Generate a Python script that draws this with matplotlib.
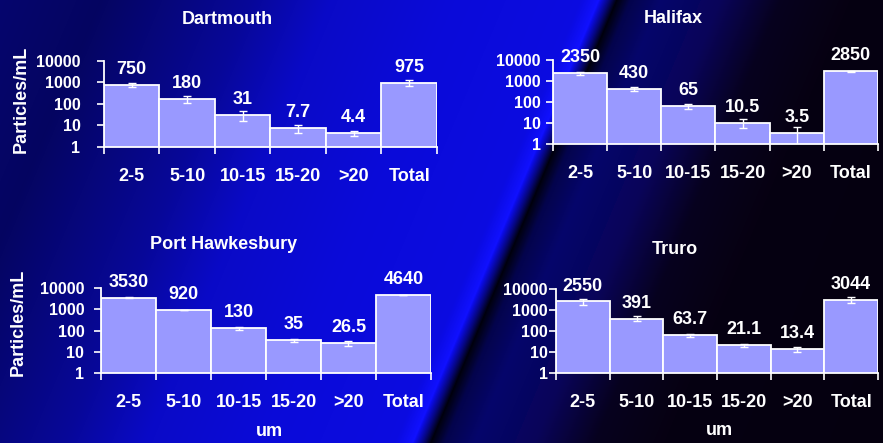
import numpy as np
import matplotlib
matplotlib.use("Agg")
import matplotlib.pyplot as plt

plt.rcParams["font.family"] = ["Liberation Sans", "DejaVu Sans"]
plt.rcParams["font.weight"] = "bold"

categories = ["2-5", "5-10", "10-15", "15-20", ">20", "Total"]

dartmouth = [750, 180, 31, 7.7, 4.4, 975]
dartmouth_err = [150, 65, 14, 3, 1.3, 280]

halifax = [2350, 430, 65, 10.5, 3.5, 2850]
halifax_err = [450, 90, 18, 5, 2.8, 300]

port_hawkesbury = [3530, 920, 130, 35, 26.5, 4640]
port_hawkesbury_err = [150, 40, 20, 7, 7, 200]

truro = [2550, 391, 63.7, 21.1, 13.4, 3044]
truro_err = [900, 100, 12, 4, 3.5, 1000]

W, H = 883, 443
fig = plt.figure(figsize=(W / 100, H / 100), dpi=100)

# background: navy to blue, a thin light streak, then fading to black
bg_ax = fig.add_axes([0, 0, 1, 1], zorder=-5)
yy, xx = np.mgrid[0:H, 0:W]
u = xx + 0.42 * yy
u_pts = [0, 100, 250, 330, 450, 580, 598, 608, 616, 630, 660, 720, 780, 850, 1300]
b_pts = [0.43, 0.38, 0.6, 0.78, 0.85, 0.88, 1.0, 0.5, 0.05, 0.3, 0.42, 0.35, 0.12, 0.07, 0.05]
blue = np.interp(u, u_pts, b_pts)
g = 0.05 * blue + 0.15 * np.clip(blue - 0.9, 0, None)
r = g + 0.02 * (u > 700)
bg = np.dstack([r, g, blue])
bg_ax.imshow(bg, aspect="auto", extent=[0, 1, 0, 1], origin="upper")
bg_ax.axis("off")

# title, values, errors, axes rect, ylabel, xlabel, title y, ytick pad
panels = [
    ("Dartmouth", dartmouth, dartmouth_err, [0.1178, 0.6682, 0.377, 0.1941], 0.55, False, 1.488, 12),
    ("Halifax", halifax, halifax_err, [0.6263, 0.6749, 0.368, 0.1897], None, False, 1.488, 4),
    ("Port Hawkesbury", port_hawkesbury, port_hawkesbury_err, [0.1144, 0.158, 0.3737, 0.1919], 0.6, True, 1.506, 7),
    ("Truro", truro, truro_err, [0.6297, 0.158, 0.3646, 0.1896], None, True, 1.476, 1),
]

x = np.arange(len(categories))
for title, vals, err, rect, ylab_y, show_xlabel, title_y, ypad in panels:
    ax = fig.add_axes(rect)
    ax.patch.set_alpha(0)
    ax.bar(x, vals, width=1.0, color="#9999ff", edgecolor="white", linewidth=1.3, zorder=2)
    ax.errorbar(x, vals, yerr=err, fmt="none", ecolor="white", elinewidth=1,
                capsize=3, capthick=1, zorder=3)
    ax.set_yscale("log")
    ax.set_ylim(1, 10000)
    ax.set_xlim(-0.5, len(categories) - 0.5)
    ax.set_yticks([1, 10, 100, 1000, 10000])
    ax.set_yticklabels(["1", "10", "100", "1000", "10000"])
    ax.minorticks_off()
    ax.set_xticks(x)
    ax.set_xticklabels(categories)
    ax.set_xticks(np.arange(-0.5, len(categories)), minor=True)
    ax.tick_params(axis="x", which="major", length=0, pad=15, labelsize=13, colors="white")
    ax.tick_params(axis="x", which="minor", length=5, width=1.2, color="white")
    ax.tick_params(axis="y", length=5, width=1.2, labelsize=11.5, colors="white", pad=ypad)
    for side in ["top", "right"]:
        ax.spines[side].set_visible(False)
    for side in ["left", "bottom"]:
        ax.spines[side].set_color("white")
        ax.spines[side].set_linewidth(1.3)

    for xi, v in zip(x, vals):
        ax.annotate(f"{v:g}", (xi, v), xytext=(0, 5), textcoords="offset points",
                    ha="center", va="bottom", fontsize=13, color="white", fontweight="bold")

    ax.text(0.37, title_y, title, transform=ax.transAxes, ha="center", va="center",
            fontsize=13, color="white", fontweight="bold")
    if ylab_y is not None:
        ax.set_ylabel("Particles/mL", fontsize=13, color="white", fontweight="bold", va="center")
        ax.yaxis.set_label_coords(-0.25, ylab_y)
    if show_xlabel:
        ax.set_xlabel("um", fontsize=13, color="white", fontweight="bold", va="center")
        ax.xaxis.set_label_coords(0.509, -0.69)

fig.savefig("out.png", dpi=100)
